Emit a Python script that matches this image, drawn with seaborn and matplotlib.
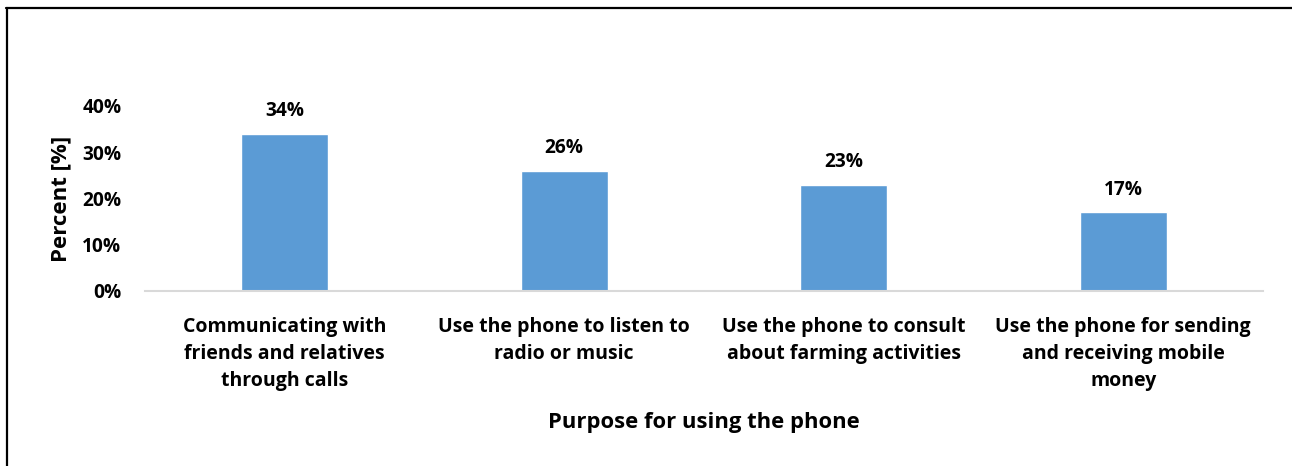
import matplotlib
matplotlib.use("Agg")
import matplotlib.pyplot as plt
from matplotlib.lines import Line2D
import seaborn as sns
import pandas as pd

# Survey results: main purpose for using the phone
categories = [
    "Communicating with\nfriends and relatives\nthrough calls",
    "Use the phone to listen to\nradio or music",
    "Use the phone to consult\nabout farming activities",
    "Use the phone for sending\nand receiving mobile\nmoney",
]
percent = [34, 26, 23, 17]
y_ticks = [0, 10, 20, 30, 40]
y_tick_labels = ["0%", "10%", "20%", "30%", "40%"]

df = pd.DataFrame({"purpose": categories, "percent": percent})

sns.set_theme(style="white")
plt.rcParams["font.family"] = ["Open Sans", "DejaVu Sans"]
plt.rcParams["font.weight"] = "bold"

FS = 14
W, H = 1292, 466
fig = plt.figure(figsize=(W / 100, H / 100), dpi=100)
ax = fig.add_axes([145 / W, 1 - 291 / H, (1263 - 145) / W, (291 - 106) / H])

sns.barplot(data=df, x="purpose", y="percent", color="#5b9bd5",
            width=0.31, saturation=1, ax=ax)

ax.set_ylim(0, 40)
ax.set_xlim(-0.5, len(categories) - 0.5)
ax.set_yticks(y_ticks)
ax.set_yticklabels(y_tick_labels, fontsize=13.8, fontweight="bold", color="black")
for lbl in ax.get_xticklabels():
    lbl.set_fontsize(FS)
    lbl.set_fontweight("bold")
    lbl.set_color("black")
    lbl.set_linespacing(1.48)
ax.tick_params(axis="y", length=0, pad=17)
ax.tick_params(axis="x", length=0, pad=18.5)

for side in ["top", "right", "left"]:
    ax.spines[side].set_visible(False)
ax.spines["bottom"].set_color("#d9d9d9")
ax.spines["bottom"].set_linewidth(1.5)
ax.grid(False)

# value labels above bars
for i, v in enumerate(percent):
    ax.annotate(f"{v}%", xy=(i, v), xytext=(0, 9), textcoords="offset points",
                ha="center", va="bottom", fontsize=13.8, fontweight="bold",
                color="black")

ax.set_xlabel("Purpose for using the phone", fontsize=15.8, fontweight="bold",
              color="black", labelpad=15)
ax.set_ylabel("Percent [%]", fontsize=16, fontweight="bold",
              color="black", labelpad=8)

# frame lines along the top and left edges of the figure
fig.add_artist(Line2D([6 / W, 1], [1 - 8 / H, 1 - 8 / H],
                      color="black", linewidth=1.6, transform=fig.transFigure))
fig.add_artist(Line2D([6.5 / W, 6.5 / W], [0, 1 - 8 / H],
                      color="black", linewidth=1.6, transform=fig.transFigure))

fig.savefig("out.png", dpi=100, facecolor="white")
